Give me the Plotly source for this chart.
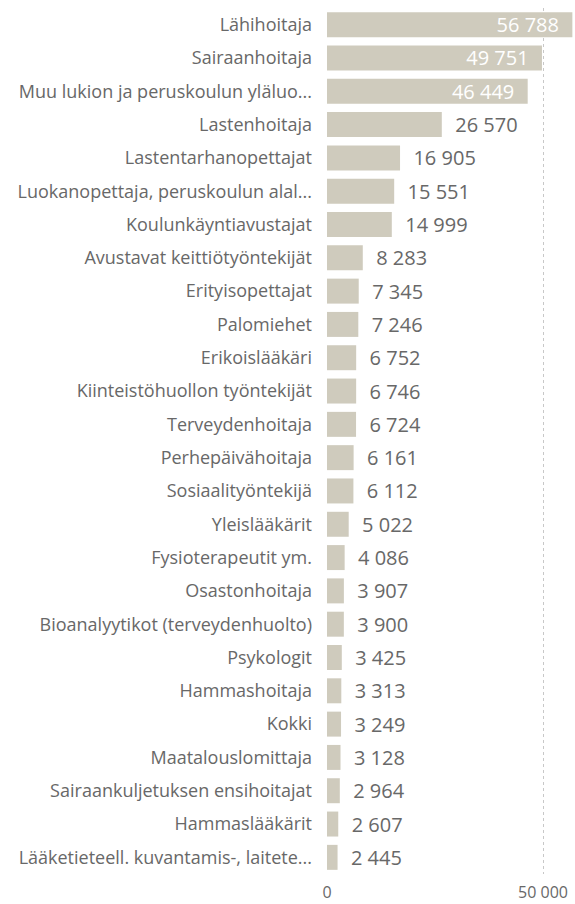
import plotly.graph_objects as go

categories = [
    "Lähihoitaja", "Sairaanhoitaja", "Muu lukion ja peruskoulun yläluo...",
    "Lastenhoitaja", "Lastentarhanopettajat", "Luokanopettaja, peruskoulun alal...",
    "Koulunkäyntiavustajat", "Avustavat keittiötyöntekijät", "Erityisopettajat",
    "Palomiehet", "Erikoislääkäri", "Kiinteistöhuollon työntekijät",
    "Terveydenhoitaja", "Perhepäivähoitaja", "Sosiaalityöntekijä", "Yleislääkärit",
    "Fysioterapeutit ym.", "Osastonhoitaja", "Bioanalyytikot (terveydenhuolto)",
    "Psykologit", "Hammashoitaja", "Kokki", "Maatalouslomittaja",
    "Sairaankuljetuksen ensihoitajat", "Hammaslääkärit",
    "Lääketieteell. kuvantamis-, laitete...",
]
values = [56788, 49751, 46449, 26570, 16905, 15551, 14999, 8283, 7345, 7246,
          6752, 6746, 6724, 6161, 6112, 5022, 4086, 3907, 3900, 3425, 3313,
          3249, 3128, 2964, 2607, 2445]
tick_values = [0, 50000]

n_inside = 3
positions = ["inside"] * n_inside + ["outside"] * (len(values) - n_inside)
templates = ["%{x:,}\u00a0\u00a0"] * n_inside + ["\u00a0\u00a0%{x:,}"] * (len(values) - n_inside)

FONT = "Open Sans"
GRAY = "#686868"

fig = go.Figure(go.Bar(
    x=values, y=categories, orientation="h",
    marker=dict(color="#CFCBBD", line=dict(width=0)),
    texttemplate=templates, textposition=positions,
    insidetextanchor="end",
    insidetextfont=dict(color="white", size=20, family=FONT),
    outsidetextfont=dict(color=GRAY, size=20, family=FONT),
    constraintext="none", cliponaxis=False,
    hoverinfo="skip",
))

fig.update_layout(
    width=575, height=904,
    margin=dict(l=327, r=0, t=8, b=30),
    paper_bgcolor="white", plot_bgcolor="white",
    separators=", ",
    bargap=0.25,
    showlegend=False,
    font=dict(family=FONT, size=18, color=GRAY),
)
fig.update_yaxes(
    autorange="reversed", automargin=False,
    tickfont=dict(size=18, color=GRAY, family=FONT),
    ticks="", ticklabelstandoff=14, showgrid=False, showline=False,
)
fig.update_xaxes(
    range=[0, 57400], tickvals=tick_values, tickformat=",",
    tickfont=dict(size=16, color=GRAY, family=FONT),
    showgrid=True, gridcolor="#C8C8C8", griddash="dot", gridwidth=1,
    zeroline=False, showline=False, ticks="", automargin=False,
    ticklabelstandoff=7,
)

fig.write_html(
    "out.html",
    config={"displayModeBar": False},
    post_script="document.body.style.margin='0';document.body.style.overflow='hidden';",
)
